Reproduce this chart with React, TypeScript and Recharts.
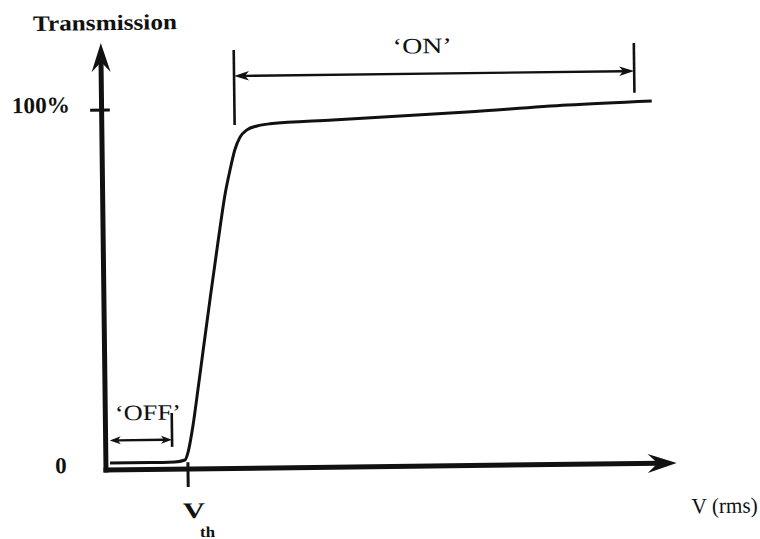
import React from 'react';
import { LineChart, Line, XAxis, YAxis, ReferenceLine, ReferenceDot } from 'recharts';

// Applied voltage in units of the threshold voltage (Vth = 1)
const voltage = [0.05, 0.54, 0.84, 0.965, 1.0, 1.067, 1.133, 1.2, 1.3, 1.4, 1.5, 1.556, 1.62, 1.684, 1.77, 1.893, 2.05, 2.82, 4.456, 5.68, 6.71];
// Transmission in %
const transmission = [1.9, 1.9, 2.0, 2.5, 4.4, 12, 22, 32.5, 48, 63, 77, 82.8, 88.6, 92, 94, 95.05, 95.6, 96.45, 98.2, 99.8, 100.65];

const xDomain: [number, number] = [0, 7];
const yDomain: [number, number] = [0, 120];
const axisEnds = { v: 6.96, t: 118.6 };
const thresholdV = 1.0;
const fullT = 100;

// 'ON' / 'OFF' range annotations (data units)
const onRange = { from: 1.62, to: 6.5, level: 109, leftBar: [95.4, 116.2], rightBar: [103, 116.8] };
const offRange = { from: 0.05, to: 0.81, level: 8.2, bar: [6.2, 15.6] };

const labelTexts = ['Transmission', '100%', '0', 'V', 'th', 'V (rms)', '\u2018ON\u2019', '\u2018OFF\u2019'];
const labelAnchors = [
  { v: 0.054, t: 122.2 },
  { v: -0.74, t: 99.4 },
  { v: -0.55, t: -0.7 },
  { v: 1.066, t: -13.6 },
  { v: 1.228, t: -18.95 },
  { v: 7.54, t: -14.05 },
  { v: 3.92, t: 114.7 },
  { v: 0.52, t: 13.75 },
];
const labelStyles = [
  { size: 22, weight: 'bold', width: 144 },
  { size: 23, weight: 'bold', width: 58 },
  { size: 23, weight: 'bold', width: 0 },
  { size: 22, weight: 'bold', width: 22 },
  { size: 15, weight: 'bold', width: 15 },
  { size: 22, weight: 'normal', width: 66 },
  { size: 22, weight: 'normal', width: 59 },
  { size: 22, weight: 'normal', width: 66 },
];

const curve = voltage.map((v, i) => ({ v, t: transmission[i] }));
const INK = '#111';

type HeadOpts = { len: number; half: number; notch: number };

function headPoints(x: number, y: number, ang: number, h: HeadOpts) {
  const c = Math.cos(ang);
  const s = Math.sin(ang);
  const P = (a: number, b: number) => `${x + a * c - b * s},${y + a * s + b * c}`;
  return [P(0, 0), P(-h.len, h.half), P(-h.notch, 0), P(-h.len, -h.half)].join(' ');
}

function makeArrowShape(opts: { start?: boolean; end?: boolean; head?: HeadOpts; width: number; cap?: 'butt' | 'square' | 'round' }) {
  return (p: any) => {
    const { x1, y1, x2, y2 } = p;
    if ([x1, y1, x2, y2].some((n) => typeof n !== 'number' || isNaN(n))) return <g />;
    const ang = Math.atan2(y2 - y1, x2 - x1);
    const c = Math.cos(ang);
    const s = Math.sin(ang);
    let ax = x1, ay = y1, bx = x2, by = y2;
    if (opts.head && opts.end) { bx = x2 - c * opts.head.notch; by = y2 - s * opts.head.notch; }
    if (opts.head && opts.start) { ax = x1 + c * opts.head.notch; ay = y1 + s * opts.head.notch; }
    return (
      <g>
        <line x1={ax} y1={ay} x2={bx} y2={by} stroke={INK} strokeWidth={opts.width} strokeLinecap={opts.cap || 'butt'} />
        {opts.head && opts.end ? <polygon points={headPoints(x2, y2, ang, opts.head)} fill={INK} /> : null}
        {opts.head && opts.start ? <polygon points={headPoints(x1, y1, ang + Math.PI, opts.head)} fill={INK} /> : null}
      </g>
    );
  };
}

const axisShape = makeArrowShape({ end: true, head: { len: 29, half: 9.5, notch: 19 }, width: 5, cap: 'square' });
const plainShape = makeArrowShape({ width: 2.6 });
const tickShape = makeArrowShape({ width: 3 });
const onShape = makeArrowShape({ start: true, end: true, head: { len: 15, half: 4.8, notch: 11 }, width: 2.4 });
const offShape = makeArrowShape({ start: true, end: true, head: { len: 11, half: 4, notch: 8 }, width: 2.4 });

function makeTextShape(i: number) {
  return (p: any) => {
    const st = labelStyles[i];
    const extra: any = st.width ? { textLength: st.width, lengthAdjust: 'spacingAndGlyphs' } : {};
    return (
      <text
        x={p.cx}
        y={p.cy}
        textAnchor="middle"
        fontFamily="'Liberation Serif', 'Times New Roman', serif"
        fontSize={st.size}
        fontWeight={st.weight}
        fill={INK}
        {...extra}
      >
        {labelTexts[i]}
      </text>
    );
  };
}

export default function App() {
  return (
    <div
      style={{
        position: 'absolute',
        left: 0,
        top: 0,
        width: 760,
        height: 539,
        background: '#fff',
        transform: 'rotate(-0.7deg)',
        transformOrigin: '106px 470px',
      }}
    >
      <LineChart width={760} height={539} data={curve} margin={{ top: 38, right: 80, bottom: 69, left: 106 }}>
        <XAxis type="number" dataKey="v" domain={xDomain} allowDataOverflow hide />
        <YAxis type="number" dataKey="t" domain={yDomain} allowDataOverflow hide />

        {/* axes with arrowheads */}
        <ReferenceLine segment={[{ x: 0, y: 0 }, { x: 0, y: axisEnds.t }]} ifOverflow="visible" shape={axisShape} />
        <ReferenceLine segment={[{ x: 0, y: 0 }, { x: axisEnds.v, y: 0 }]} ifOverflow="visible" shape={axisShape} />

        {/* ticks */}
        <ReferenceLine segment={[{ x: -0.14, y: fullT }, { x: 0.1, y: fullT }]} ifOverflow="visible" shape={tickShape} />
        <ReferenceLine segment={[{ x: thresholdV, y: 1.9 }, { x: thresholdV, y: -5 }]} ifOverflow="visible" shape={tickShape} />

        {/* 'ON' range */}
        <ReferenceLine segment={[{ x: onRange.from, y: onRange.leftBar[0] }, { x: onRange.from, y: onRange.leftBar[1] }]} ifOverflow="visible" shape={plainShape} />
        <ReferenceLine segment={[{ x: onRange.to, y: onRange.rightBar[0] }, { x: onRange.to, y: onRange.rightBar[1] }]} ifOverflow="visible" shape={plainShape} />
        <ReferenceLine segment={[{ x: onRange.from, y: onRange.level }, { x: onRange.to, y: onRange.level }]} ifOverflow="visible" shape={onShape} />

        {/* 'OFF' range */}
        <ReferenceLine segment={[{ x: offRange.to, y: offRange.bar[0] }, { x: offRange.to, y: offRange.bar[1] }]} ifOverflow="visible" shape={plainShape} />
        <ReferenceLine segment={[{ x: offRange.from, y: offRange.level }, { x: offRange.to, y: offRange.level }]} ifOverflow="visible" shape={offShape} />

        <Line type="monotone" dataKey="t" stroke={INK} strokeWidth={3} dot={false} isAnimationActive={false} />

        {labelAnchors.map((a, i) => (
          <ReferenceDot key={i} x={a.v} y={a.t} r={0} ifOverflow="visible" shape={makeTextShape(i)} />
        ))}
      </LineChart>
    </div>
  );
}
